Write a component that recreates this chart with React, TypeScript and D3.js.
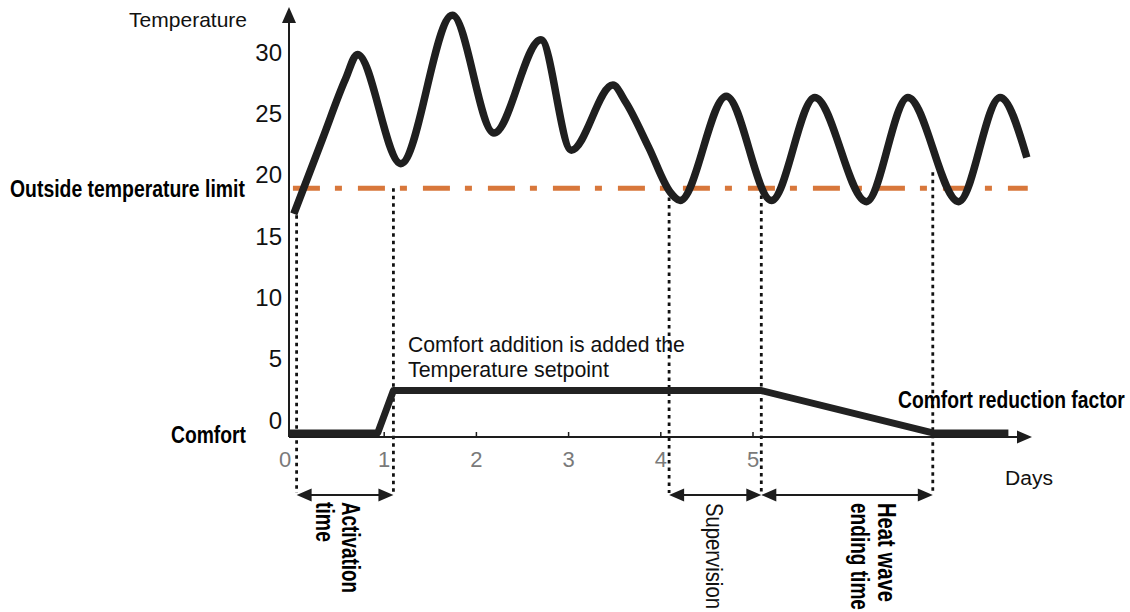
import React, { useLayoutEffect, useRef, useState } from "react";
import * as d3 from "d3";

// ---- data ----
const tempDays = [0.02, 0.33, 0.58, 0.71, 1.18, 1.74, 2.19, 2.70, 3.03, 3.48, 3.62, 3.87, 4.10, 4.21, 4.71, 5.20, 5.67, 6.23, 6.68, 7.23, 7.68, 7.97];
const tempValues = [16.8, 22.9, 27.8, 29.8, 20.9, 33.0, 23.4, 31.0, 22.0, 27.3, 25.9, 22.2, 18.6, 17.9, 26.4, 17.9, 26.3, 17.8, 26.3, 17.8, 26.3, 21.4];

const comfortDays = [-0.03, 0.93, 1.1, 5.09, 6.95, 7.77];
const comfortValues = [-1.05, -1.05, 2.4, 2.4, -1.05, -1.05];

const limitValue = 18.9;
const limitRange = [0.01, 7.98];

const markerDays = [0.05, 1.1, 4.09, 5.09, 6.95];
const markerTops = [16.7, 18.9, 18.75, 18.3, 20.2];

const intervals: [number, number][] = [[0, 1], [2, 3], [3, 4]];

const yTicks = [0, 5, 10, 15, 20, 25, 30];
const xTicks = [0, 1, 2, 3, 4, 5];

const W = 1130;
const H = 612;

const FONT = "'Liberation Sans', Arial, Helvetica, sans-serif";

type FitProps = {
  x: number;
  y: number;
  rotate?: number;
  length: number;
  size: number;
  bold?: boolean;
  fill?: string;
  children: string;
};

function FitText({ x, y, rotate = 0, length, size, bold, fill = "#000", children }: FitProps) {
  const ref = useRef<SVGTextElement>(null);
  const [k, setK] = useState(1);
  useLayoutEffect(() => {
    if (ref.current) {
      const len = ref.current.getComputedTextLength();
      if (len > 0) setK(length / len);
    }
  }, [length, size, children]);
  return (
    <text
      ref={ref}
      transform={`translate(${x},${y}) rotate(${rotate}) scale(${k},1)`}
      fontSize={size}
      fontWeight={bold ? "bold" : "normal"}
      fill={fill}
    >
      {children}
    </text>
  );
}

export default function App() {
  const x = d3.scaleLinear().domain([0, 5]).range([292, 753]);
  const y = d3.scaleLinear().domain([0, 30]).range([420, 52]);

  const axisX = 289;
  const axisY = 437;
  const arrowY = 495;
  const xAxisEnd = 1032;

  const tempLine = d3
    .line<number>()
    .x((_, i) => x(tempDays[i]))
    .y((d) => y(d))
    .curve(d3.curveMonotoneX)(tempValues) as string;

  const comfortLine = d3
    .line<number>()
    .x((_, i) => x(comfortDays[i]))
    .y((d) => y(d))(comfortValues) as string;

  const ink = "#1d1d1d";

  const arrowHead = (tipX: number, tipY: number, dir: number) => {
    const L = 15;
    const h = 6.5;
    return `M${tipX},${tipY} L${tipX - dir * L},${tipY - h} L${tipX - dir * L},${tipY + h} Z`;
  };

  return (
    <svg
      width={W}
      height={H}
      viewBox={`0 0 ${W} ${H}`}
      style={{ position: "fixed", left: 0, top: 0, background: "#fff" }}
      fontFamily={FONT}
    >
      <rect x={0} y={0} width={W} height={H} fill="#fff" />

      {/* dotted vertical markers */}
      {markerDays.map((d, i) => (
        <line
          key={"m" + i}
          x1={x(d)}
          x2={x(d)}
          y1={y(markerTops[i])}
          y2={arrowY - 2}
          stroke="#111"
          strokeWidth={2.8}
          strokeDasharray="3.5 4"
        />
      ))}

      {/* outside temperature limit */}
      <line
        x1={x(limitRange[0])}
        x2={x(limitRange[1])}
        y1={y(limitValue)}
        y2={y(limitValue)}
        stroke="#d8773b"
        strokeWidth={5}
        strokeDasharray="27 15 7 16"
      />

      {/* axes */}
      <line x1={axisX} x2={axisX} y1={axisY} y2={16} stroke={ink} strokeWidth={2} />
      <path d={`M${axisX},7 L${axisX - 7},23 L${axisX + 7},23 Z`} fill={ink} />
      <line x1={axisX} x2={xAxisEnd - 10} y1={axisY} y2={axisY} stroke={ink} strokeWidth={2} />
      <path d={arrowHead(xAxisEnd, axisY, 1)} fill={ink} />

      {/* x ticks */}
      {xTicks.filter((t) => t > 0).map((t) => (
        <line key={"xt" + t} x1={x(t)} x2={x(t)} y1={axisY - 5} y2={axisY} stroke={ink} strokeWidth={1.5} />
      ))}
      {xTicks.map((t) => (
        <text
          key={"xl" + t}
          x={t === 0 ? x(t) - 7 : x(t)}
          y={467}
          textAnchor="middle"
          fontSize={22}
          fill="#7a7a7a"
        >
          {t}
        </text>
      ))}

      {/* y tick labels */}
      {yTicks.map((t) => (
        <text key={"yl" + t} x={282} y={y(t)} dy="0.36em" textAnchor="end" fontSize={24} fill="#111">
          {t}
        </text>
      ))}

      {/* comfort line */}
      <path d={comfortLine} fill="none" stroke="#222" strokeWidth={7} strokeLinejoin="round" />

      {/* temperature curve */}
      <path d={tempLine} fill="none" stroke="#1f1f1f" strokeWidth={7.5} strokeLinejoin="round" />

      {/* interval arrows */}
      {intervals.map(([a, b], i) => {
        const x1 = x(markerDays[a]);
        const x2 = x(markerDays[b]);
        return (
          <g key={"iv" + i}>
            <line x1={x1 + 8} x2={x2 - 8} y1={arrowY} y2={arrowY} stroke={ink} strokeWidth={2} />
            <path d={arrowHead(x1, arrowY, -1)} fill={ink} />
            <path d={arrowHead(x2, arrowY, 1)} fill={ink} />
          </g>
        );
      })}

      {/* labels */}
      <text x={247} y={27} textAnchor="end" fontSize={21} fill="#111">
        Temperature
      </text>
      <FitText x={10} y={197} size={24} bold length={235}>Outside temperature limit</FitText>
      <FitText x={171} y={443} size={24} bold length={75}>Comfort</FitText>
      <FitText x={408} y={352} size={22} length={277} fill="#111">Comfort addition is added the</FitText>
      <FitText x={408} y={377} size={22} length={201} fill="#111">Temperature setpoint</FitText>
      <FitText x={898} y={408} size={24} bold length={227}>Comfort reduction factor</FitText>
      <FitText x={1005} y={485} size={21} length={48} fill="#111">Days</FitText>

      {/* rotated labels */}
      <FitText x={342} y={502} rotate={90} size={25} bold length={91}>Activation</FitText>
      <FitText x={316} y={502} rotate={90} size={25} bold length={40}>time</FitText>
      <FitText x={706} y={503} rotate={90} size={23} length={106} fill="#111">Supervision</FitText>
      <FitText x={878} y={503} rotate={90} size={25} bold length={99}>Heat wave</FitText>
      <FitText x={851} y={503} rotate={90} size={25} bold length={107}>ending time</FitText>
    </svg>
  );
}
